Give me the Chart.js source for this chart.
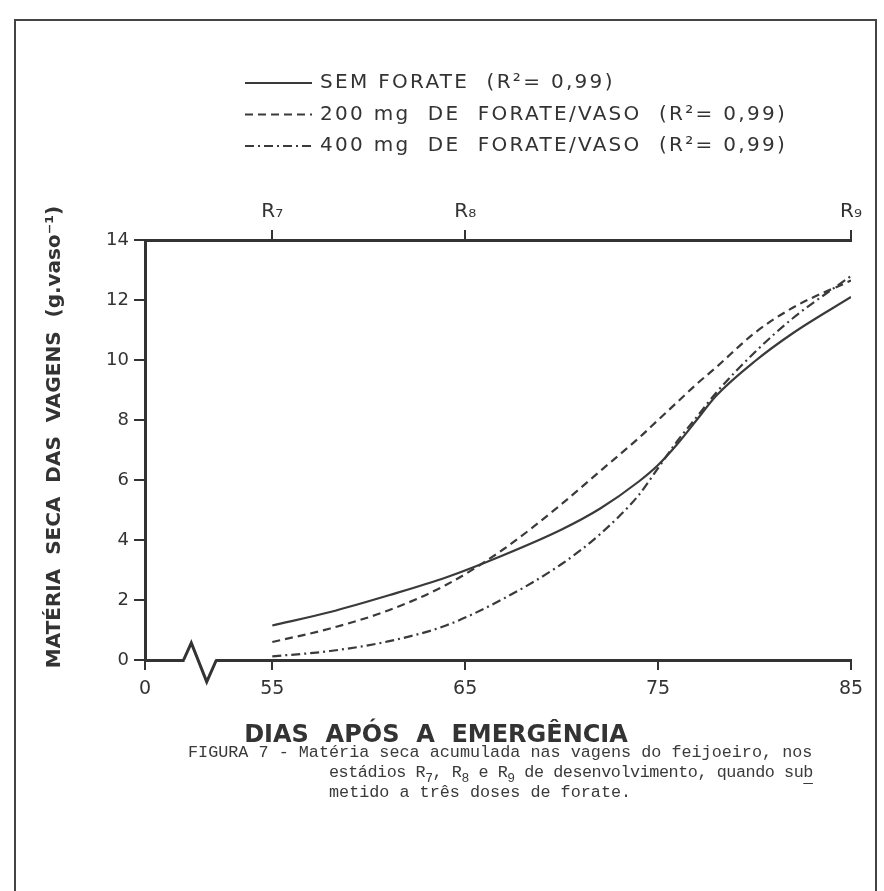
<!DOCTYPE html>
<html><head><meta charset="utf-8">
<script src="https://cdn.jsdelivr.net/npm/chart.js@4.4.1/dist/chart.umd.min.js"></script>
<style>
html,body{margin:0;padding:0;background:#fff;}
#wrap{position:relative;width:884px;height:891px;overflow:hidden;background:#fff;}
canvas{position:absolute;left:0;top:0;}
#cap{position:absolute;left:188px;top:743px;font-family:"Liberation Mono",monospace;font-size:16.8px;line-height:20px;color:#3a3a3a;white-space:pre;}
#cap sub{font-size:13px;vertical-align:-5px;line-height:0;}
#cap .l2{letter-spacing:-0.45px;}
#cap u{text-underline-offset:6px;}
</style></head><body>
<div id="wrap"><canvas id="c" width="884" height="891"></canvas>
<div id="cap">FIGURA 7 - Matéria seca acumulada nas vagens do feijoeiro, nos
              <span class="l2">estádios R<sub>7</sub>, R<sub>8</sub> e R<sub>9</sub> de desenvolvimento, quando su<u>b</u></span>
              metido a três doses de forate.</div>
</div>
<script>
// ---- data ----
const days = [55, 58, 61, 64, 67, 70, 72, 74, 75, 76, 77, 78, 80, 82, 85];
const semForate = [1.15, 1.6, 2.15, 2.75, 3.5, 4.35, 5.05, 5.95, 6.5, 7.2, 8.0, 8.8, 9.95, 10.9, 12.1];
const forate200 = [0.6, 1.05, 1.65, 2.5, 3.7, 5.2, 6.3, 7.4, 8.0, 8.6, 9.2, 9.75, 10.9, 11.75, 12.65];
const forate400 = [0.12, 0.3, 0.62, 1.15, 2.05, 3.2, 4.2, 5.5, 6.4, 7.3, 8.1, 8.9, 10.25, 11.4, 12.8];
const seriesLabels = ['SEM FORATE  (R\u00B2= 0,99)', '200 mg  DE  FORATE/VASO  (R\u00B2= 0,99)', '400 mg  DE  FORATE/VASO  (R\u00B2= 0,99)'];
const xZeroPos = 48.4;               // position of the "0" tick across the axis break
const xTickValues = [xZeroPos, 55, 65, 75, 85];
const xTickLabels = ['0', '55', '65', '75', '85'];
const stageTickValues = [55, 65, 85];
const stageTickLabels = ['R\u2087', 'R\u2088', 'R\u2089'];
const yTicks = [0, 2, 4, 6, 8, 10, 12, 14];
const breakX = [50.4, 50.8, 51.6, 52.1];
const breakY = [0, 0.57, -0.73, 0];
const xTitle = 'DIAS  APÓS  A  EMERGÊNCIA';
const yTitle = 'MATÉRIA  SECA  DAS  VAGENS  (g.vaso\u207B\u00B9)';

const INK = '#333333';
const FONT = 'DejaVu Sans';

const toPts = vals => days.map((d, i) => ({x: d, y: vals[i]}));

const framePlugin = {
  id: 'frame',
  beforeDraw(chart) {
    const ctx = chart.ctx;
    ctx.save();
    ctx.fillStyle = '#fff';
    ctx.fillRect(0, 0, chart.width, chart.height);
    ctx.strokeStyle = '#444';
    ctx.lineWidth = 2;
    ctx.strokeRect(15, 20, 861, 900);
    ctx.restore();
  }
};

const decorPlugin = {
  id: 'decor',
  afterDraw(chart) {
    const ctx = chart.ctx;
    const xs = chart.scales.x, ys = chart.scales.y;
    // axis break
    ctx.save();
    const x0 = xs.getPixelForValue(breakX[0]), x1 = xs.getPixelForValue(breakX[breakX.length - 1]);
    const yb = ys.getPixelForValue(0);
    ctx.fillStyle = '#fff';
    ctx.fillRect(x0 + 1, yb - 3, x1 - x0 - 2, 6);
    ctx.strokeStyle = INK;
    ctx.lineWidth = 3;
    ctx.lineJoin = 'miter';
    ctx.beginPath();
    breakX.forEach((bx, i) => {
      const px = xs.getPixelForValue(bx), py = ys.getPixelForValue(breakY[i]);
      if (i === 0) ctx.moveTo(px, py); else ctx.lineTo(px, py);
    });
    ctx.stroke();
    ctx.restore();

    // legend
    ctx.save();
    chart.data.datasets.forEach((ds, i) => {
      const y = 83 + i * 31.5;
      ctx.strokeStyle = ds.borderColor;
      ctx.lineWidth = ds.borderWidth;
      ctx.setLineDash(ds.borderDash || []);
      ctx.beginPath();
      ctx.moveTo(245, y);
      ctx.lineTo(312, y);
      ctx.stroke();
      ctx.setLineDash([]);
      ctx.fillStyle = INK;
      ctx.font = '20px "' + FONT + '"';
      ctx.letterSpacing = '2.3px';
      ctx.textBaseline = 'middle';
      ctx.textAlign = 'left';
      ctx.fillText(ds.label, 320, y);
    });
    ctx.restore();

    // axis titles
    ctx.save();
    ctx.fillStyle = INK;
    ctx.font = 'bold 24px "' + FONT + '"';
    ctx.textAlign = 'center';
    ctx.textBaseline = 'middle';
    ctx.fillText(xTitle, 436, 736);
    ctx.translate(55, 437);
    ctx.rotate(-Math.PI / 2);
    ctx.font = 'bold 20px "' + FONT + '"';
    ctx.fillText(yTitle, 0, 0);
    ctx.restore();
  }
};

const lineDs = (label, vals, dash, w) => ({
  label, data: toPts(vals), borderColor: '#3a3a3a', borderWidth: w, borderDash: dash,
  pointRadius: 0, fill: false, cubicInterpolationMode: 'monotone'
});

new Chart(document.getElementById('c'), {
  type: 'line',
  data: {
    datasets: [
      lineDs(seriesLabels[0], semForate, [], 2.2),
      lineDs(seriesLabels[1], forate200, [8, 5], 2.2),
      lineDs(seriesLabels[2], forate400, [9, 4, 2, 4], 2.2)
    ]
  },
  options: {
    responsive: false,
    animation: false,
    devicePixelRatio: 1,
    layout: {padding: {left: 40, right: 33, top: 190, bottom: 171}},
    plugins: {legend: {display: false}, tooltip: {enabled: false}},
    scales: {
      x: {
        type: 'linear', position: 'bottom', min: xZeroPos, max: 85,
        afterBuildTicks: s => { s.ticks = xTickValues.map(v => ({value: v})); },
        afterFit: s => { s.height = 60; },
        ticks: {callback: (v, i) => xTickLabels[i], font: {family: FONT, size: 19}, color: INK, padding: 8, maxRotation: 0, autoSkip: false},
        grid: {drawOnChartArea: false, drawTicks: true, tickLength: 10, color: INK, lineWidth: 2},
        border: {display: true, width: 3, color: INK}
      },
      x2: {
        type: 'linear', position: 'top', min: xZeroPos, max: 85,
        afterBuildTicks: s => { s.ticks = stageTickValues.map(v => ({value: v})); },
        afterFit: s => { s.height = 50; },
        ticks: {callback: (v, i) => stageTickLabels[i], font: {family: FONT, size: 20}, color: INK, padding: 6, maxRotation: 0, autoSkip: false},
        grid: {drawOnChartArea: false, drawTicks: true, tickLength: 10, color: INK, lineWidth: 2},
        border: {display: true, width: 3, color: INK}
      },
      y: {
        min: 0, max: 14,
        afterBuildTicks: s => { s.ticks = yTicks.map(v => ({value: v})); },
        afterFit: s => { s.width = 105; },
        ticks: {font: {family: FONT, size: 18}, color: INK, padding: 5},
        grid: {drawOnChartArea: false, drawTicks: true, tickLength: 11, color: INK, lineWidth: 2},
        border: {display: true, width: 3, color: INK}
      }
    }
  },
  plugins: [framePlugin, decorPlugin]
});
</script>
</body></html>
